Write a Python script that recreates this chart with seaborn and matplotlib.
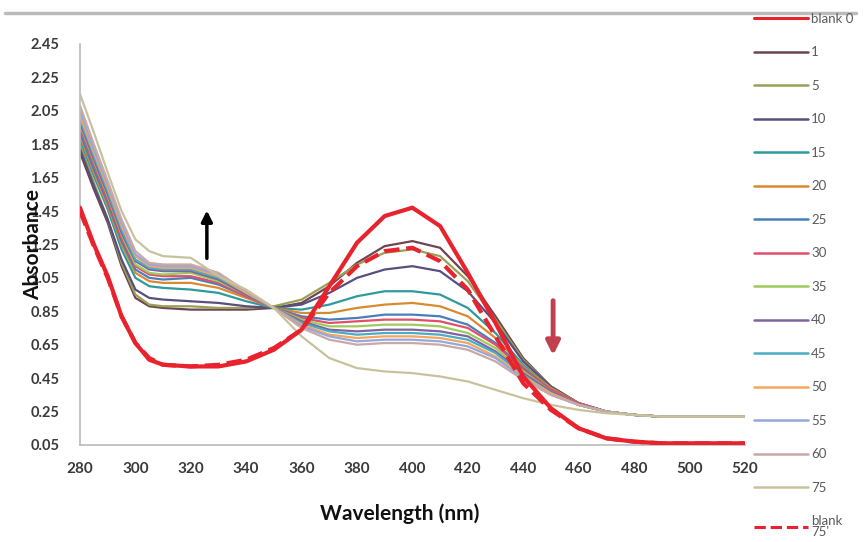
import matplotlib
matplotlib.use("Agg")
import matplotlib.pyplot as plt
import seaborn as sns
import pandas as pd
from matplotlib.lines import Line2D

sns.set_style("white")
plt.rcParams['font.family'] = ['Lato', 'DejaVu Sans']

wavelength = [280, 285, 290, 295, 300, 305, 310, 320, 330, 340, 350, 360, 370, 380,
              390, 400, 410, 420, 430, 440, 450, 460, 470, 480, 490, 500, 510, 520]

blank_0 = [1.47, 1.25, 1.06, 0.82, 0.66, 0.56, 0.53, 0.52, 0.52, 0.55, 0.62, 0.74, 1.00, 1.26,
           1.42, 1.47, 1.36, 1.08, 0.78, 0.46, 0.27, 0.15, 0.09, 0.07, 0.06, 0.06, 0.06, 0.06]
t1 = [1.80, 1.58, 1.38, 1.12, 0.93, 0.88, 0.87, 0.86, 0.86, 0.86, 0.87, 0.90, 1.00, 1.14,
      1.24, 1.27, 1.23, 1.06, 0.82, 0.57, 0.40, 0.30, 0.25, 0.23, 0.22, 0.22, 0.22, 0.22]
t5 = [1.85, 1.62, 1.40, 1.14, 0.95, 0.89, 0.88, 0.88, 0.87, 0.87, 0.88, 0.92, 1.02, 1.13,
      1.20, 1.22, 1.18, 1.03, 0.80, 0.56, 0.40, 0.30, 0.25, 0.23, 0.22, 0.22, 0.22, 0.22]
t10 = [1.82, 1.60, 1.40, 1.16, 0.98, 0.93, 0.92, 0.91, 0.90, 0.88, 0.87, 0.89, 0.96, 1.05,
       1.10, 1.12, 1.09, 0.97, 0.78, 0.55, 0.40, 0.30, 0.25, 0.23, 0.22, 0.22, 0.22, 0.22]
t15 = [1.88, 1.66, 1.46, 1.22, 1.05, 1.00, 0.99, 0.98, 0.96, 0.91, 0.87, 0.86, 0.89, 0.94,
       0.97, 0.97, 0.95, 0.87, 0.72, 0.53, 0.39, 0.30, 0.25, 0.23, 0.22, 0.22, 0.22, 0.22]
t20 = [1.90, 1.68, 1.48, 1.25, 1.08, 1.03, 1.02, 1.02, 0.99, 0.93, 0.87, 0.84, 0.84, 0.87,
       0.89, 0.90, 0.88, 0.82, 0.69, 0.52, 0.39, 0.30, 0.25, 0.23, 0.22, 0.22, 0.22, 0.22]
t25 = [1.92, 1.70, 1.50, 1.27, 1.10, 1.05, 1.04, 1.05, 1.01, 0.94, 0.87, 0.82, 0.80, 0.81,
       0.83, 0.83, 0.82, 0.77, 0.66, 0.51, 0.38, 0.30, 0.25, 0.23, 0.22, 0.22, 0.22, 0.22]
t30 = [1.95, 1.73, 1.52, 1.29, 1.12, 1.07, 1.06, 1.06, 1.02, 0.94, 0.87, 0.81, 0.78, 0.79,
       0.80, 0.80, 0.79, 0.75, 0.65, 0.50, 0.38, 0.30, 0.25, 0.23, 0.22, 0.22, 0.22, 0.22]
t35 = [1.97, 1.75, 1.54, 1.31, 1.13, 1.08, 1.07, 1.08, 1.03, 0.95, 0.87, 0.80, 0.76, 0.76,
       0.77, 0.77, 0.76, 0.72, 0.63, 0.49, 0.37, 0.29, 0.25, 0.23, 0.22, 0.22, 0.22, 0.22]
t40 = [1.98, 1.76, 1.55, 1.32, 1.15, 1.10, 1.09, 1.09, 1.04, 0.95, 0.87, 0.79, 0.74, 0.73,
       0.74, 0.74, 0.73, 0.70, 0.61, 0.48, 0.37, 0.29, 0.25, 0.23, 0.22, 0.22, 0.22, 0.22]
t45 = [2.00, 1.78, 1.57, 1.34, 1.16, 1.11, 1.10, 1.10, 1.05, 0.96, 0.87, 0.78, 0.73, 0.71,
       0.72, 0.72, 0.71, 0.68, 0.60, 0.47, 0.36, 0.29, 0.25, 0.23, 0.22, 0.22, 0.22, 0.22]
t50 = [2.02, 1.80, 1.59, 1.36, 1.18, 1.12, 1.11, 1.11, 1.06, 0.96, 0.87, 0.77, 0.71, 0.69,
       0.70, 0.70, 0.69, 0.66, 0.58, 0.46, 0.36, 0.29, 0.25, 0.23, 0.22, 0.22, 0.22, 0.22]
t55 = [2.05, 1.82, 1.61, 1.38, 1.19, 1.13, 1.12, 1.12, 1.07, 0.97, 0.87, 0.76, 0.70, 0.67,
       0.68, 0.68, 0.67, 0.64, 0.57, 0.45, 0.35, 0.29, 0.25, 0.23, 0.22, 0.22, 0.22, 0.22]
t60 = [2.08, 1.85, 1.63, 1.40, 1.21, 1.14, 1.13, 1.13, 1.08, 0.97, 0.87, 0.75, 0.68, 0.65,
       0.66, 0.66, 0.65, 0.62, 0.55, 0.44, 0.35, 0.29, 0.25, 0.23, 0.22, 0.22, 0.22, 0.22]
t75 = [2.15, 1.92, 1.68, 1.45, 1.28, 1.21, 1.18, 1.17, 1.06, 0.98, 0.87, 0.70, 0.57, 0.51,
       0.49, 0.48, 0.46, 0.43, 0.38, 0.33, 0.29, 0.26, 0.24, 0.23, 0.22, 0.22, 0.22, 0.22]
blank_75 = [1.45, 1.24, 1.05, 0.82, 0.66, 0.57, 0.53, 0.52, 0.53, 0.56, 0.63, 0.74, 0.96, 1.12,
            1.21, 1.23, 1.15, 0.98, 0.70, 0.42, 0.26, 0.15, 0.09, 0.07, 0.06, 0.06, 0.06, 0.06]

labels = ["blank 0", "1", "5", "10", "15", "20", "25", "30", "35", "40", "45", "50", "55",
          "60", "75", "blank\n75'"]
series = [blank_0, t1, t5, t10, t15, t20, t25, t30, t35, t40, t45, t50, t55, t60, t75, blank_75]
colors = ["#E8232E", "#6E4550", "#9AA055", "#5A4E80", "#2E9AA0", "#D98A30", "#4A7EBB",
          "#E0506A", "#9CCB5C", "#8064A2", "#4BACC6", "#F4A65A", "#95A8DC", "#C9A8A8",
          "#C8C29C", "#E8232E"]
widths = [3.0] + [1.6] * 14 + [3.0]
dashes = ["-"] + ["-"] * 14 + ["--"]

xticks = [280, 300, 320, 340, 360, 380, 400, 420, 440, 460, 480, 500, 520]
yticks = [0.05, 0.25, 0.45, 0.65, 0.85, 1.05, 1.25, 1.45, 1.65, 1.85, 2.05, 2.25, 2.45]

fig = plt.figure(figsize=(8.65, 5.42), dpi=100)
ax = fig.add_axes([0.0925, 0.179, 0.7685, 0.74])

order = list(range(1, 15)) + [15, 0]
for i in order:
    df = pd.DataFrame({"wavelength": wavelength, "absorbance": series[i]})
    sns.lineplot(data=df, x="wavelength", y="absorbance", ax=ax, color=colors[i],
                 linewidth=widths[i], linestyle=dashes[i], label=labels[i], legend=False,
                 zorder=3 if i in (0, 15) else 2)

ax.set_xlim(280, 520)
ax.set_ylim(0.05, 2.45)
ax.set_xticks(xticks)
ax.set_yticks(yticks)
ax.set_xticklabels([str(v) for v in xticks], fontsize=11, fontweight="bold", color="#3A3A3A")
ax.set_yticklabels([f"{v:.2f}" for v in yticks], fontsize=10.5, fontweight="bold", color="#3A3A3A")
for s in ["top", "right"]:
    ax.spines[s].set_visible(False)
for s in ["left", "bottom"]:
    ax.spines[s].set_color("#BBBBBB")
    ax.spines[s].set_linewidth(1.2)
ax.tick_params(axis="both", which="both", length=4, color="#BBBBBB", direction="inout")
ax.tick_params(axis="y", pad=13)
ax.tick_params(axis="x", pad=10)

ax.set_xlabel("Wavelength (nm)", fontsize=15, fontweight="bold", color="#111111")
ax.xaxis.set_label_coords(0.481, -0.145)
ax.set_ylabel("Absorbance", fontsize=15, fontweight="bold", color="#111111")
ax.yaxis.set_label_coords(-0.056, 0.50)

# arrows
ax.annotate("", xy=(325.8, 1.47), xytext=(325.8, 1.15),
            arrowprops=dict(arrowstyle="-|>", color="black", lw=2.5, mutation_scale=16))
ax.annotate("", xy=(450.8, 0.57), xytext=(450.8, 0.93),
            arrowprops=dict(arrowstyle="-|>", color="#C0404D", lw=3.5, mutation_scale=20))

# legend
handles = []
for i in range(16):
    handles.append(Line2D([0], [0], color=colors[i], linewidth=2.2 if i in (0, 15) else 1.8,
                          linestyle=dashes[i]))
leg = fig.legend(handles, labels, loc="upper left", bbox_to_anchor=(0.866, 0.986),
                 frameon=False, fontsize=9.5, labelcolor="#5A5A5A", handlelength=4.1,
                 handletextpad=0.2, labelspacing=1.63, borderaxespad=0)
leg.get_texts()[-1].set_linespacing(0.85)

# top border line
fig.add_artist(Line2D([0.006, 0.99], [0.976, 0.976], color="#BBBBBB", linewidth=2.5,
                      transform=fig.transFigure))

fig.savefig("out.png", dpi=100)
